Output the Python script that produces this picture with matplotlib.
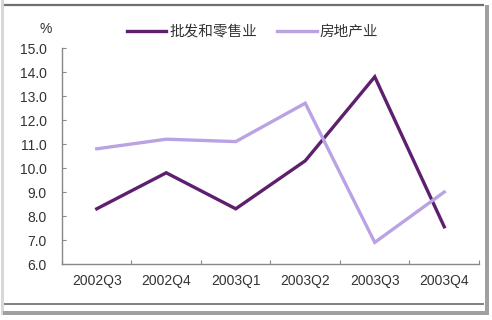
import matplotlib
matplotlib.use('Agg')
import matplotlib.pyplot as plt
from matplotlib.patches import Rectangle
from matplotlib.lines import Line2D

plt.rcParams['font.family'] = ['Liberation Sans', 'Noto Sans CJK SC', 'DejaVu Sans']

quarters = ['2002Q3', '2002Q4', '2003Q1', '2003Q2', '2003Q3', '2003Q4']
wholesale = [8.3, 9.8, 8.3, 10.3, 13.8, 7.55]
realestate = [10.8, 11.2, 11.1, 12.7, 6.9, 9.0]
yticks = [6.0, 7.0, 8.0, 9.0, 10.0, 11.0, 12.0, 13.0, 14.0, 15.0]

dark = '#5e1f6e'
light = '#b9a3e3'

fig = plt.figure(figsize=(4.92, 3.2), dpi=100)
fig.patch.set_facecolor('white')

# screenshot frame
W, H = 492.0, 320.0
fig.add_artist(Rectangle((0.5/W, 5/H), 3/W, 1-5/H, transform=fig.transFigure, color='#d8d8d8', lw=0))
fig.add_artist(Rectangle((485/W, 5/H), 4/W, 1-10/H, transform=fig.transFigure, color='#a0a0a0', lw=0))
fig.add_artist(Rectangle((3/W, 5/H), 486/W, 4/H, transform=fig.transFigure, color='#a0a0a0', lw=0))
fig.add_artist(Line2D([5/W, 483/W], [1-5/H, 1-5/H], transform=fig.transFigure, color='#707070', lw=1.6))
fig.add_artist(Line2D([5/W, 483/W], [1-304/H, 1-304/H], transform=fig.transFigure, color='#808080', lw=1.4))

ax = fig.add_axes([62/W, 1-264/H, (479-62)/W, (264-48)/H])
x = list(range(len(quarters)))
ax.plot(x, wholesale, color=dark, lw=2.4, label='批发和零售业', solid_joinstyle='miter')
ax.plot(x, realestate, color=light, lw=2.4, label='房地产业', solid_joinstyle='miter')

ax.set_xlim(-0.5, len(quarters) - 0.5)
ax.set_ylim(6.0, 15.0)
ax.set_yticks(yticks)
ax.set_yticklabels(['%.1f' % v for v in yticks])
ax.set_xticks([i - 0.5 for i in range(len(quarters) + 1)])
ax.set_xticklabels([])
ax.set_xticks(x, minor=True)
ax.set_xticklabels(quarters, minor=True)
ax.tick_params(axis='x', which='minor', length=0, pad=7)
ax.tick_params(axis='x', which='major', direction='in', length=3, color='#888888')
ax.tick_params(axis='y', direction='in', length=3, color='#888888', pad=11)
ax.tick_params(labelsize=10, labelcolor='#333333')
for lbl in ax.get_xticklabels(minor=True):
    lbl.set_fontsize(10)
    lbl.set_color('#333333')

for s in ['top', 'right']:
    ax.spines[s].set_visible(False)
for s in ['left', 'bottom']:
    ax.spines[s].set_color('#888888')
    ax.spines[s].set_linewidth(1.0)

fig.text(46/W, 1-29/H, '%', fontsize=10, color='#333333', va='center', ha='center')

leg = ax.legend(loc='center left', bbox_to_anchor=(127/W, 1-32/H), bbox_transform=fig.transFigure,
                ncol=2, frameon=False, fontsize=10.5, handlelength=2.7, handletextpad=0.2,
                columnspacing=1.4, borderaxespad=0, borderpad=0)
for t in leg.get_texts():
    t.set_color('#333333')

fig.savefig('out.png', dpi=100)
